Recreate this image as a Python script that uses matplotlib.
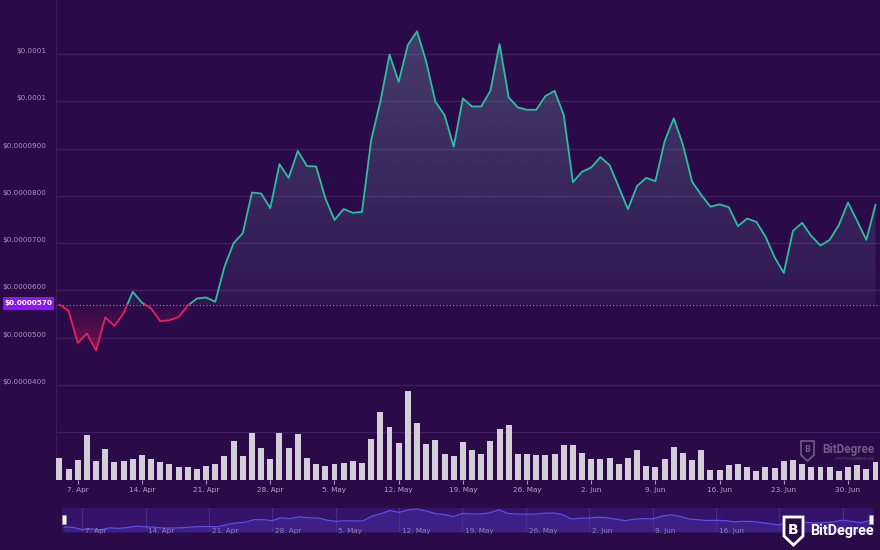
import matplotlib
matplotlib.use('Agg')
import matplotlib.pyplot as plt
import matplotlib.dates as mdates
import matplotlib.transforms as mtransforms
from matplotlib.path import Path
from matplotlib.patches import Rectangle, Polygon
import numpy as np
import pandas as pd

# daily data, 5 Apr - 3 Jul
dates = pd.date_range('2024-04-05', '2024-07-03', freq='D')

# price in units of 1e-7 USD
price_e7 = [
    570, 557, 489, 509, 473, 543, 525, 552, 597, 574, 562, 535, 537, 544, 568, 583,
    585, 576, 650, 700, 721, 807, 805, 774, 867, 838,
    895, 863, 862, 795, 749, 772, 764, 766, 918, 999, 1099, 1041, 1119, 1148, 1084,
    999, 971, 904, 1006, 989, 989, 1022, 1121, 1008, 987, 982, 982, 1011, 1022, 971, 829,
    851, 860, 882, 865, 819, 772, 821, 838, 831, 915, 964, 908, 830, 802, 777, 782,
    776, 736, 752, 745, 714, 670, 637, 726, 743, 715, 695, 707, 738, 786,
    747, 707, 781,
]

# traded volume (relative units)
volume = [
    22, 11, 20, 45, 19.3, 30.7, 18.3, 19, 20.7, 25.3, 20.7, 18, 15.7, 12.7, 13, 11,
    14.3, 15.7, 23.7, 39, 23.7, 46.7, 32, 21, 47.3, 31.7, 46, 22.3, 16.3, 14, 15.7, 17,
    19, 17, 40.7, 68, 52.7, 37.3, 89, 57.3, 36.3, 39.7, 26.3, 24,
    38.3, 30.3, 26.3, 39, 51, 55.3, 26.3, 26.3, 25, 24.7, 26.3, 35, 35, 27, 21, 20.7,
    22.3, 15.7, 22.3, 29.7, 14.3, 12.7, 21, 33.3, 27, 20, 29.7, 10, 9.7, 15, 16.3, 13,
    9, 13, 11.7, 19, 19.7, 16.3, 12.7, 12.7, 12.7, 9, 13, 14.7, 11, 18,
]

baseline = 0.0000570
baseline_label = '$0.0000570'

price_ticks = [0.00004, 0.00005, 0.00006, 0.00007, 0.00008, 0.00009, 0.0001, 0.00011]
price_tick_labels = ['$0.0000400', '$0.0000500', '$0.0000600', '$0.0000700',
                     '$0.0000800', '$0.0000900', '$0.0001', '$0.0001']
grid_levels = [0.00003] + price_ticks

date_ticks = pd.to_datetime(['2024-04-07', '2024-04-14', '2024-04-21', '2024-04-28',
                             '2024-05-05', '2024-05-12', '2024-05-19', '2024-05-26',
                             '2024-06-02', '2024-06-09', '2024-06-16', '2024-06-23',
                             '2024-06-30'])
date_tick_labels = ['7. Apr', '14. Apr', '21. Apr', '28. Apr', '5. May', '12. May',
                    '19. May', '26. May', '2. Jun', '9. Jun', '16. Jun', '23. Jun',
                    '30. Jun']

BG = '#2b0a48'
GRID = '#421f66'
TEAL = '#2bbf9f'
RED = '#e8215f'
BAR = '#d3cdd8'
LABEL = '#a596b8'
MARK = '#6e5c86'

W, H = 880, 550


def fx(x):
    return x / W


def fy(y):
    return 1 - y / H


price = np.array(price_e7) * 1e-7
xd = mdates.date2num(dates)
t0, t1 = xd[0], xd[-1]

fig = plt.figure(figsize=(8.8, 5.5), dpi=100, facecolor=BG)

# ---- price panel
ax = fig.add_axes([fx(56), fy(480), fx(880) - fx(56), fy(0) - fy(480)])
ax.set_facecolor(BG)
for s in ['top', 'right', 'bottom']:
    ax.spines[s].set_visible(False)
ax.spines['left'].set_color('#3c1a5e')
ax.spines['left'].set_linewidth(0.8)
ax.set_xticks([])
ax.set_yticks([])
for g in grid_levels:
    ax.axhline(g, color=GRID, lw=1, zorder=0)

xlim = (t0 - 3.4 / 9.17, t1 + 4.5 / 9.17)
ylim = (0.00004 - 95 / 47.29 * 1e-5, 0.00004 + 385 / 47.29 * 1e-5)

# split line at baseline crossings
xs, ys = [xd[0]], [price[0]]
for i in range(1, len(price)):
    a, b = price[i - 1] - baseline, price[i] - baseline
    if a * b < 0:
        f = a / (a - b)
        xs.append(xd[i - 1] + f * (xd[i] - xd[i - 1]))
        ys.append(baseline)
    xs.append(xd[i])
    ys.append(price[i])
xs, ys = np.array(xs), np.array(ys)


# gradient fills clipped to the area between line and baseline
def grad_fill(mask_top, color, a_top, a_bot, y_top, y_bot):
    coll = ax.fill_between(xs, ys, baseline, where=mask_top, interpolate=True,
                           facecolor='none', edgecolor='none')
    path = Path.make_compound_path(*coll.get_paths())
    coll.remove()
    n = 256
    grad = np.zeros((n, 1, 4))
    grad[:, 0, :3] = matplotlib.colors.to_rgb(color)
    grad[:, 0, 3] = np.linspace(a_bot, a_top, n)
    im = ax.imshow(grad, extent=[xlim[0], xlim[1], y_bot, y_top], origin='lower',
                   aspect='auto', zorder=1, interpolation='bilinear')
    im.set_clip_path(path, ax.transData)


grad_fill(ys >= baseline, '#6c8ca0', 0.40, 0.10, 0.000115, baseline)
grad_fill(ys <= baseline, '#c81e5a', 0.02, 0.45, baseline, 0.000047)

ax.plot(xs, np.where(ys >= baseline, ys, np.nan), color=TEAL, lw=1.3, zorder=3)
ax.plot(xs, np.where(ys <= baseline, ys, np.nan), color=RED, lw=1.3, zorder=3)
ax.axhline(baseline, color='#9b8bb0', lw=0.8, ls=(0, (1, 2)), zorder=2)

ax.set_xlim(xlim)
ax.set_ylim(ylim)

lab_tr = mtransforms.blended_transform_factory(ax.transAxes, ax.transData) + \
    mtransforms.ScaledTranslation(-10 / 100, 3 / 100, fig.dpi_scale_trans)
for v, t in zip(price_ticks, price_tick_labels):
    ax.text(0, v, t, transform=lab_tr, ha='right', va='center', fontsize=5.2,
            color=LABEL, clip_on=False)

# baseline value tag
fig.patches.append(Rectangle((fx(3), fy(310)), fx(54) - fx(3), fy(297) - fy(310),
                             transform=fig.transFigure, facecolor='#8a16f2',
                             edgecolor='none'))
fig.text(fx(28.5), fy(303.5), baseline_label, ha='center', va='center',
         fontsize=5.2, color='white', fontweight='bold')

# ---- volume panel
axv = fig.add_axes([fx(56), fy(480), fx(880) - fx(56), fy(385) - fy(480)])
axv.patch.set_visible(False)
for s in axv.spines.values():
    s.set_visible(False)
axv.bar(xd, volume, width=0.65, color=BAR, zorder=2)
axv.set_xlim(xlim)
axv.set_ylim(0, 95)
axv.set_yticks([])
axv.set_xticks(mdates.date2num(date_ticks))
axv.set_xticklabels(date_tick_labels)
axv.tick_params(axis='x', length=3, width=0.8, color='#a99bbb', pad=2,
                labelsize=5.2, labelcolor='#b3a7c4')

# watermark
fig.text(fx(874), fy(449), 'BitDegree', ha='right', va='center', family='Roboto',
         fontsize=8.5, color=MARK, fontweight='bold')
fig.text(fx(874), fy(459), 'CRYPTO LEARNING HUB', ha='right', va='center',
         family='Roboto', fontsize=2.6, color='#5e4d78')
wm = [(801, 441), (814, 441), (814, 455), (807.5, 461), (801, 455)]
fig.patches.append(Polygon([(fx(a), fy(b)) for a, b in wm], closed=True,
                           transform=fig.transFigure, facecolor='none',
                           edgecolor=MARK, lw=1.2))
fig.text(fx(807.5), fy(450), 'B', ha='center', va='center', fontsize=5.5,
         color=MARK, fontweight='bold')

# ---- navigator
axn = fig.add_axes([fx(62), fy(532), fx(873) - fx(62), fy(508) - fy(532)])
axn.set_facecolor('#35136a')
for s in axn.spines.values():
    s.set_visible(False)
axn.set_xticks([])
axn.set_yticks([])
nav_lim = (t0 - 2 / 9.056, t1 + 3 / 9.056)
pmin, pmax = min(price_e7), max(price_e7)
span = (pmax - pmin) / 21
axn.set_xlim(nav_lim)
axn.set_ylim(pmin - 2 * span, pmax + span)
for d, t in zip(mdates.date2num(date_ticks), date_tick_labels):
    axn.axvline(d, color='#4d2d80', lw=0.7, zorder=1)
    if d < xd[-1] - 14:
        axn.text(d + 0.3, pmin - 0.6 * span, t, fontsize=5.2, color='#8f83b3',
                 ha='left', va='center', zorder=3)
axn.fill_between(xd, price_e7, pmin - 2 * span, color='#4a2fa8', alpha=0.45, lw=0, zorder=2)
axn.plot(xd, price_e7, color='#5a4fe6', lw=0.9, zorder=2)

for x0 in (62, 869):
    fig.patches.append(Rectangle((fx(x0), fy(524)), fx(4), fy(515) - fy(524),
                                 transform=fig.transFigure, facecolor='#f2f2f2',
                                 edgecolor='#9a9a9a', lw=0.5))

# ---- logo
shield = [(784, 517), (803, 517), (803, 536), (793.5, 545), (784, 536)]
fig.patches.append(Polygon([(fx(a), fy(b)) for a, b in shield], closed=True,
                           transform=fig.transFigure, facecolor=BG,
                           edgecolor='white', lw=2, zorder=5))
fig.text(fx(793.5), fy(529.5), 'B', ha='center', va='center', fontsize=10,
         color='white', fontweight='bold', zorder=6)
fig.text(fx(810), fy(531), 'BitDegree', ha='left', va='center', family='Roboto',
         fontsize=10.4, color='white', fontweight='bold', zorder=6)

fig.savefig('out.png', dpi=100, facecolor=BG)
